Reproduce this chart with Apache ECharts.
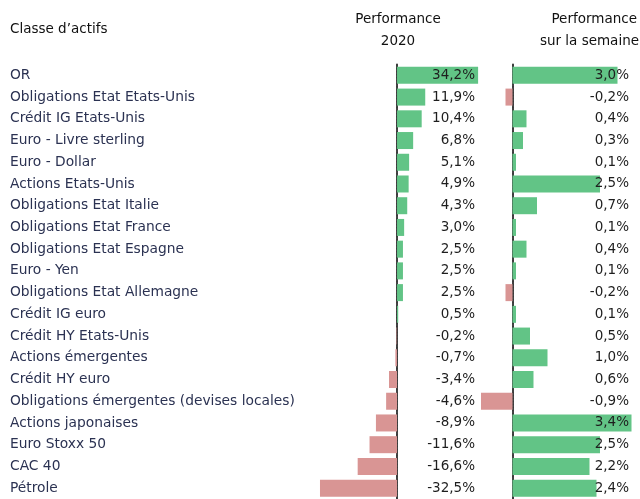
<!DOCTYPE html>
<html><head><meta charset="utf-8">
<script src="https://cdn.jsdelivr.net/npm/echarts@6/dist/echarts.min.js"></script>
<style>html,body{margin:0;padding:0;background:#fff}#c{width:640px;height:499px}</style>
</head><body><div id="c"></div>
<script>
const categories = ['OR','Obligations Etat Etats-Unis','Crédit IG Etats-Unis','Euro - Livre sterling','Euro - Dollar','Actions Etats-Unis','Obligations Etat Italie','Obligations Etat France','Obligations Etat Espagne','Euro - Yen','Obligations Etat Allemagne','Crédit IG euro','Crédit HY Etats-Unis','Actions émergentes','Crédit HY euro','Obligations émergentes (devises locales)','Actions japonaises','Euro Stoxx 50','CAC 40','Pétrole'];
const perf2020 = [34.2,11.9,10.4,6.8,5.1,4.9,4.3,3.0,2.5,2.5,2.5,0.5,-0.2,-0.7,-3.4,-4.6,-8.9,-11.6,-16.6,-32.5];
const perfWeek = [3.0,-0.2,0.4,0.3,0.1,2.5,0.7,0.1,0.4,0.1,-0.2,0.1,0.5,1.0,0.6,-0.9,3.4,2.5,2.2,2.4];
const headerLeft = 'Classe d\u2019actifs';
const header1 = ['Performance','2020'];
const header2 = ['Performance','sur la semaine'];

const fmt = v => v.toFixed(1).replace('.', ',') + '%';
const GREEN = '#62c486', RED = '#d99594';
const font = '"DejaVu Sans", Verdana, sans-serif';

const chart = echarts.init(document.getElementById('c'), null, {renderer:'canvas'});
const gTop = 64.5, gH = 437;
const zeroLine = {show:true, onZero:true, lineStyle:{color:'#3a3a3a', width:2, type:[2,1]}};
const hStyle = {fontSize:13.5, fontWeight:'normal', color:'#111', fontFamily:font};
chart.setOption({
  animation:false,
  textStyle:{fontFamily:font},
  title:[
    {text:headerLeft, left:10, top:22.5, padding:0, textStyle:hStyle},
    {text:header1[0], left:398, top:12.5, padding:0, textAlign:'center', textStyle:hStyle},
    {text:header1[1], left:398, top:34.5, padding:0, textAlign:'center', textStyle:hStyle},
    {text:header2[0], right:3, top:12.5, padding:0, textStyle:hStyle},
    {text:header2[1], right:1, top:34.5, padding:0, textStyle:hStyle}
  ],
  grid:[
    {left:318.8, top:gTop, width:161.2, height:gH},
    {left:477.5, top:gTop, width:157.5, height:gH}
  ],
  xAxis:[
    {type:'value', gridIndex:0, min:-33, max:35, show:false},
    {type:'value', gridIndex:1, min:-1, max:3.5, show:false}
  ],
  yAxis:[
    {type:'category', gridIndex:0, data:categories, inverse:true, axisLine:zeroLine, axisTick:{show:false},
     axisLabel:{align:'left', margin:308.8, fontSize:13.8, color:'#2b3252', fontFamily:font}},
    {type:'category', gridIndex:0, position:'right', data:perf2020.map(fmt), inverse:true, z:10,
     axisLine:{show:false}, axisTick:{show:false},
     axisLabel:{inside:true, align:'right', margin:5, fontSize:13.5, color:'#1e1e1e', fontFamily:font}},
    {type:'category', gridIndex:1, data:categories, inverse:true, axisLine:zeroLine, axisTick:{show:false}, axisLabel:{show:false}},
    {type:'category', gridIndex:1, position:'right', data:perfWeek.map(fmt), inverse:true, z:10,
     axisLine:{show:false}, axisTick:{show:false},
     axisLabel:{inside:true, align:'right', margin:6, fontSize:13.5, color:'#1e1e1e', fontFamily:font}}
  ],
  series:[
    {type:'bar', xAxisIndex:0, yAxisIndex:0, data:perf2020, barWidth:17,
     itemStyle:{color:p => p.value >= 0 ? GREEN : RED}},
    {type:'bar', xAxisIndex:1, yAxisIndex:2, data:perfWeek, barWidth:17,
     itemStyle:{color:p => p.value >= 0 ? GREEN : RED}}
  ]
});
</script></body></html>
